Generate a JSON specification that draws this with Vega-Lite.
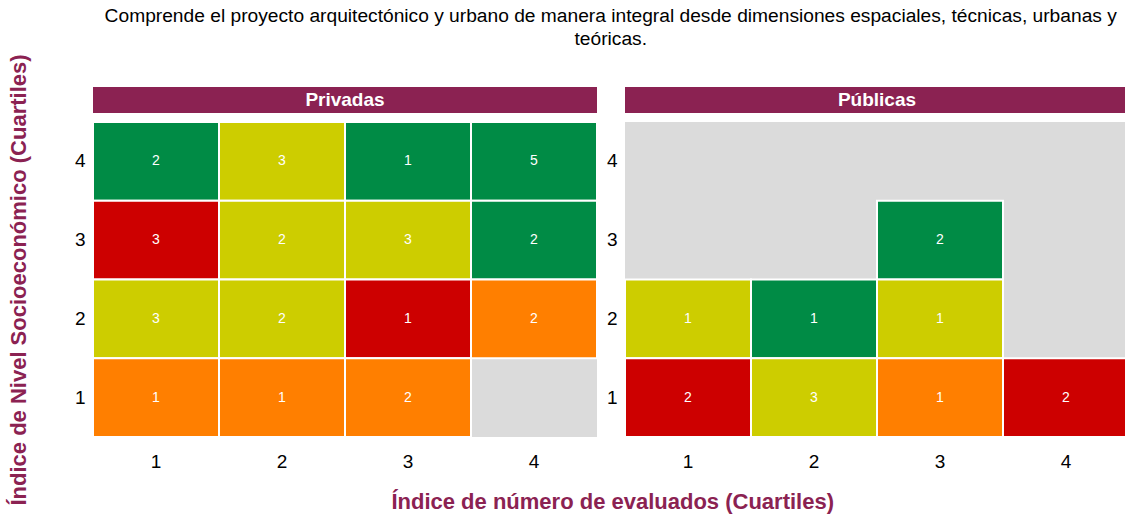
{
  "$schema": "https://vega.github.io/schema/vega-lite/v6.json",
  "padding": {"left": 7, "top": 6, "right": 0, "bottom": 0},
  "autosize": {"type": "pad"},
  "background": "white",
  "title": {
    "text": ["Comprende el proyecto arquitectónico y urbano de manera integral desde dimensiones espaciales, técnicas, urbanas y", "teóricas."],
    "font": "Liberation Sans",
    "fontSize": 19.2,
    "fontWeight": "normal",
    "color": "#000000",
    "lineHeight": 23,
    "anchor": "middle",
    "dx": 42,
    "offset": 5
  },
  "datasets": {
    "celdas": [
      {"sector": "Privadas", "evaluados": 1, "nse": 4, "n": 2, "grupo": "verde"},
      {"sector": "Privadas", "evaluados": 2, "nse": 4, "n": 3, "grupo": "amarillo"},
      {"sector": "Privadas", "evaluados": 3, "nse": 4, "n": 1, "grupo": "verde"},
      {"sector": "Privadas", "evaluados": 4, "nse": 4, "n": 5, "grupo": "verde"},
      {"sector": "Privadas", "evaluados": 1, "nse": 3, "n": 3, "grupo": "rojo"},
      {"sector": "Privadas", "evaluados": 2, "nse": 3, "n": 2, "grupo": "amarillo"},
      {"sector": "Privadas", "evaluados": 3, "nse": 3, "n": 3, "grupo": "amarillo"},
      {"sector": "Privadas", "evaluados": 4, "nse": 3, "n": 2, "grupo": "verde"},
      {"sector": "Privadas", "evaluados": 1, "nse": 2, "n": 3, "grupo": "amarillo"},
      {"sector": "Privadas", "evaluados": 2, "nse": 2, "n": 2, "grupo": "amarillo"},
      {"sector": "Privadas", "evaluados": 3, "nse": 2, "n": 1, "grupo": "rojo"},
      {"sector": "Privadas", "evaluados": 4, "nse": 2, "n": 2, "grupo": "naranja"},
      {"sector": "Privadas", "evaluados": 1, "nse": 1, "n": 1, "grupo": "naranja"},
      {"sector": "Privadas", "evaluados": 2, "nse": 1, "n": 1, "grupo": "naranja"},
      {"sector": "Privadas", "evaluados": 3, "nse": 1, "n": 2, "grupo": "naranja"},
      {"sector": "Públicas", "evaluados": 3, "nse": 3, "n": 2, "grupo": "verde"},
      {"sector": "Públicas", "evaluados": 1, "nse": 2, "n": 1, "grupo": "amarillo"},
      {"sector": "Públicas", "evaluados": 2, "nse": 2, "n": 1, "grupo": "verde"},
      {"sector": "Públicas", "evaluados": 3, "nse": 2, "n": 1, "grupo": "amarillo"},
      {"sector": "Públicas", "evaluados": 1, "nse": 1, "n": 2, "grupo": "rojo"},
      {"sector": "Públicas", "evaluados": 2, "nse": 1, "n": 3, "grupo": "amarillo"},
      {"sector": "Públicas", "evaluados": 3, "nse": 1, "n": 1, "grupo": "naranja"},
      {"sector": "Públicas", "evaluados": 4, "nse": 1, "n": 2, "grupo": "rojo"}
    ],
    "paneles": [{"sector": "Privadas"}, {"sector": "Públicas"}]
  },
  "config": {
    "view": {"stroke": null},
    "font": "Liberation Sans",
    "axis": {"domain": false, "ticks": false, "grid": false, "labelFont": "Liberation Sans", "labelFontSize": 19, "labelColor": "#000000", "labelPadding": 8, "labelAngle": 0}
  },
  "vconcat": [
    {
      "title": {"text": "Índice de número de evaluados (Cuartiles)", "orient": "bottom", "font": "Liberation Sans", "fontSize": 22, "fontWeight": "bold", "color": "#8B2252", "anchor": "middle", "dx": 44, "offset": -13},
      "spacing": 8,
      "hconcat": [
        {
          "spacing": 9,
          "bounds": "flush",
          "vconcat": [
            {
              "width": 504, "height": 26,
              "data": {"name": "paneles"},
              "transform": [{"filter": "datum.sector === 'Privadas'"}],
              "layer": [
                {"mark": {"type": "rect", "color": "#8B2252"}, "encoding": {"x": {"field": "sector", "type": "nominal", "axis": null, "scale": {"paddingInner": 0, "paddingOuter": 0}}}},
                {"mark": {"type": "text", "color": "white", "fontSize": 19, "fontWeight": "bold", "font": "Liberation Sans"}, "encoding": {"x": {"field": "sector", "type": "nominal", "axis": null}, "text": {"field": "sector"}}}
              ]
            },
            {
              "width": 504, "height": 315,
              "view": {"fill": "#DBDBDB", "stroke": null},
              "data": {"name": "celdas"},
              "transform": [{"filter": "datum.sector === 'Privadas'"}],
              "encoding": {
                "x": {"field": "evaluados", "type": "ordinal", "scale": {"domain": [1, 2, 3, 4], "paddingInner": 0, "paddingOuter": 0}, "axis": {"title": null, "labelPadding": 15}},
                "y": {"field": "nse", "type": "ordinal", "scale": {"domain": [4, 3, 2, 1], "paddingInner": 0, "paddingOuter": 0}, "axis": {"title": "Índice de Nivel Socioeconómico (Cuartiles)", "titleFont": "Liberation Sans", "titleFontSize": 22, "titleFontWeight": "bold", "titleColor": "#8B2252", "titlePadding": 44}}
              },
              "layer": [
                {"mark": {"type": "rect", "stroke": "white", "strokeWidth": 2}, "encoding": {"color": {"field": "grupo", "type": "nominal", "legend": null, "scale": {"domain": ["verde", "amarillo", "naranja", "rojo"], "range": ["#008B45", "#CDCD00", "#FF7F00", "#CD0000"]}}}},
                {"mark": {"type": "text", "color": "white", "fontSize": 14, "font": "Liberation Sans"}, "encoding": {"text": {"field": "n", "type": "quantitative"}}}
              ]
            }
          ]
        },
        {
          "spacing": 9,
          "bounds": "flush",
          "vconcat": [
            {
              "width": 504, "height": 26,
              "data": {"name": "paneles"},
              "transform": [{"filter": "datum.sector === 'Públicas'"}],
              "layer": [
                {"mark": {"type": "rect", "color": "#8B2252"}, "encoding": {"x": {"field": "sector", "type": "nominal", "axis": null, "scale": {"paddingInner": 0, "paddingOuter": 0}}}},
                {"mark": {"type": "text", "color": "white", "fontSize": 19, "fontWeight": "bold", "font": "Liberation Sans"}, "encoding": {"x": {"field": "sector", "type": "nominal", "axis": null}, "text": {"field": "sector"}}}
              ]
            },
            {
              "width": 504, "height": 315,
              "view": {"fill": "#DBDBDB", "stroke": null},
              "data": {"name": "celdas"},
              "transform": [{"filter": "datum.sector === 'Públicas'"}],
              "encoding": {
                "x": {"field": "evaluados", "type": "ordinal", "scale": {"domain": [1, 2, 3, 4], "paddingInner": 0, "paddingOuter": 0}, "axis": {"title": null, "labelPadding": 15}},
                "y": {"field": "nse", "type": "ordinal", "scale": {"domain": [4, 3, 2, 1], "paddingInner": 0, "paddingOuter": 0}, "axis": {"title": null}}
              },
              "layer": [
                {"mark": {"type": "rect", "stroke": "white", "strokeWidth": 2}, "encoding": {"color": {"field": "grupo", "type": "nominal", "legend": null, "scale": {"domain": ["verde", "amarillo", "naranja", "rojo"], "range": ["#008B45", "#CDCD00", "#FF7F00", "#CD0000"]}}}},
                {"mark": {"type": "text", "color": "white", "fontSize": 14, "font": "Liberation Sans"}, "encoding": {"text": {"field": "n", "type": "quantitative"}}}
              ]
            }
          ]
        }
      ]
    }
  ]
}
